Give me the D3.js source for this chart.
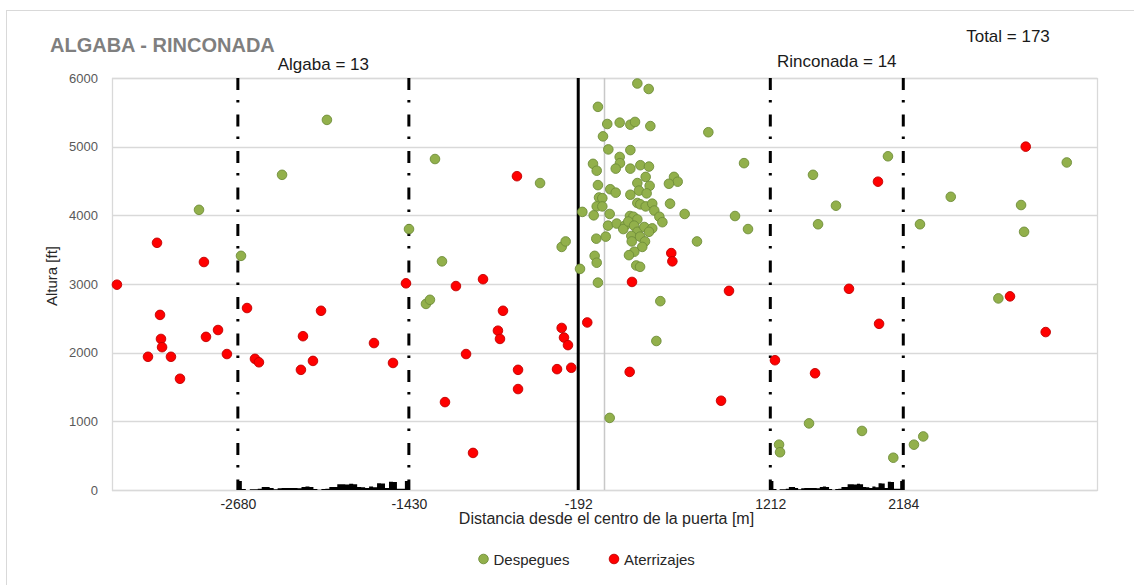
<!DOCTYPE html>
<html>
<head>
<meta charset="utf-8">
<script src="https://cdn.jsdelivr.net/npm/d3@7"></script>
<style>
  body { margin: 0; background: #fff; }
  svg { display: block; font-family: "Liberation Sans", Arial, sans-serif; }
</style>
</head>
<body>
<svg id="chart" width="1134" height="585"></svg>
<script>
// Take-offs: [distance from gate centre (m), altitude (ft)]
const despegues = [
  [-2964, 4080], [-2657, 3410], [-2357, 4590], [-2029, 5390], [-1429, 3800],
  [-1305, 2710], [-1276, 2770], [-1239, 4820], [-1188, 3330], [-471, 4470],
  [-313, 3540], [-284, 3620], [-179, 3220], [-162, 4050],
  [240, 5920], [323, 5840], [-48, 5580], [20, 5330], [111, 5350], [189, 5320],
  [223, 5360], [335, 5300], [759, 5210], [-11, 5150], [28, 4960], [189, 4950],
  [111, 4850], [113, 4760], [82, 4680], [-84, 4750], [-57, 4650], [189, 4680],
  [262, 4730], [325, 4710], [301, 4560], [508, 4560], [535, 4490], [471, 4460],
  [240, 4470], [330, 4430], [-48, 4440], [42, 4380], [82, 4330], [252, 4360],
  [308, 4320], [189, 4300], [-40, 4260], [-16, 4250], [-57, 4130], [-16, 4130],
  [240, 4180], [262, 4160], [301, 4130], [349, 4170], [479, 4170], [-79, 4000],
  [38, 4020], [364, 4070], [586, 4020], [186, 3990], [211, 3980], [240, 3940],
  [401, 3980], [423, 3900], [26, 3850], [89, 3880], [150, 3850], [137, 3800],
  [174, 3910], [216, 3850], [240, 3760], [291, 3830], [349, 3810], [325, 3760],
  [196, 3700], [260, 3690], [-60, 3660], [9, 3690], [199, 3620], [296, 3620],
  [276, 3540], [218, 3470], [179, 3420], [-72, 3410], [676, 3620], [-57, 3310],
  [232, 3270], [260, 3250], [-48, 3020], [408, 2750], [379, 2170], [38, 1050],
  [1020, 4760], [954, 3990], [1049, 3800], [1276, 660], [1283, 550], [1495, 970],
  [1524, 4590], [1561, 3870], [1692, 4140], [1882, 860], [2072, 4860], [2111, 470],
  [2262, 660], [2330, 780], [2306, 3870], [2531, 4270], [2879, 2790], [3045, 4150],
  [3067, 3760], [3379, 4770]
];

// Landings: [distance from gate centre (m), altitude (ft)]
const aterrizajes = [
  [-3564, 2990], [-3337, 1940], [-3271, 3600], [-3249, 2550], [-3242, 2200],
  [-3234, 2080], [-3169, 1940], [-3103, 1620], [-2928, 3320], [-2913, 2230],
  [-2825, 2330], [-2760, 1980], [-2613, 2650], [-2555, 1910], [-2526, 1860],
  [-2219, 1750], [-2204, 2240], [-2131, 1880], [-2072, 2610], [-1685, 2140],
  [-1546, 1850], [-1451, 3010], [-1166, 1280], [-1086, 2970], [-1012, 1980],
  [-961, 540], [-888, 3070], [-779, 2320], [-764, 2200], [-742, 2610],
  [-640, 4570], [-632, 1750], [-632, 1470], [-347, 1760], [-313, 2360],
  [-296, 2220], [-267, 2110], [-243, 1780], [-126, 2440], [184, 1720],
  [201, 3030], [488, 3450], [496, 3330], [852, 1300], [910, 2900],
  [1246, 1890], [1539, 1700], [1787, 2930], [1999, 4490], [2007, 2420],
  [2964, 2820], [3079, 5000], [3225, 2300]
];

// Urban zones under the flight paths
const zoneNames  = ["Algaba", "Rinconada"];
const zoneCounts = [13, 14];
const zoneStart  = [-2680, 1212];
const zoneEnd    = [-1430, 2184];

// Gate centre reference line and axis ticks
const gateLine = -192;
const xTickValues = [-2680, -1430, -192, 1212, 2184];
const yTickValues = [0, 1000, 2000, 3000, 4000, 5000, 6000];
const totalFlights = 173;

// Building skyline profile (ft) sampled evenly across each zone
const skylineHeights = [
  130, 15, 0, 10, 10, 20, 45, 45, 30, 10, 25, 30, 30, 30, 30, 25, 45, 50, 45, 15,
  5, 15, 20, 45, 45, 85, 85, 80, 90, 85, 45, 40, 30, 50, 40, 100, 95, 30, 120, 115,
  20, 20, 130
];

const svg = d3.select("#chart");
const W = 1134, H = 585;
const plot = { left: 112, right: 1097, top: 78, bottom: 490 };

const x = d3.scaleLinear().domain([-3600, 3600]).range([plot.left, plot.right]);
const y = d3.scaleLinear().domain([0, 6000]).range([plot.bottom, plot.top]);

// Chart area frame
svg.append("rect")
  .attr("x", 6.5).attr("y", 10.5).attr("width", W + 10).attr("height", H + 10)
  .attr("fill", "#fff").attr("stroke", "#d9d9d9").attr("stroke-width", 1);

// Horizontal gridlines
svg.append("g").selectAll("line").data(yTickValues).join("line")
  .attr("x1", plot.left).attr("x2", plot.right)
  .attr("y1", d => Math.round(y(d)) + 0.5).attr("y2", d => Math.round(y(d)) + 0.5)
  .attr("stroke", "#d9d9d9").attr("stroke-width", 1.3);

// Plot frame
svg.append("rect")
  .attr("x", plot.left + 0.5).attr("y", plot.top + 0.5)
  .attr("width", plot.right - plot.left).attr("height", plot.bottom - plot.top)
  .attr("fill", "none").attr("stroke", "#d9d9d9").attr("stroke-width", 1.3);

// Zero-distance line
svg.append("line")
  .attr("x1", x(0)).attr("x2", x(0)).attr("y1", plot.top).attr("y2", plot.bottom)
  .attr("stroke", "#c8c8c8").attr("stroke-width", 1.5);

// Skylines
const area = d3.area()
  .x(d => x(d[0]))
  .y0(y(0))
  .y1(d => y(d[1]))
  .curve(d3.curveStepAfter);

zoneNames.forEach((name, i) => {
  const a = zoneStart[i], b = zoneEnd[i];
  const n = skylineHeights.length;
  const pts = skylineHeights.map((h, k) => [a + (b - a) * k / n, h]);
  pts.push([b, skylineHeights[n - 1]]);
  svg.append("path").datum(pts).attr("d", area).attr("fill", "#000");
});

// Zone boundary lines (dash-dot)
const zoneEdges = zoneStart.concat(zoneEnd);
svg.append("g").selectAll("line").data(zoneEdges).join("line")
  .attr("x1", d => x(d)).attr("x2", d => x(d))
  .attr("y1", plot.top).attr("y2", plot.bottom)
  .attr("stroke", "#000").attr("stroke-width", 3)
  .attr("stroke-dasharray", "12,10,2.5,12");

// Gate centre line
svg.append("line")
  .attr("x1", x(gateLine)).attr("x2", x(gateLine))
  .attr("y1", plot.top).attr("y2", plot.bottom)
  .attr("stroke", "#000").attr("stroke-width", 3);

// Scatter points
const R = 4.8;
svg.append("g").selectAll("circle").data(despegues).join("circle")
  .attr("cx", d => x(d[0])).attr("cy", d => y(d[1])).attr("r", R)
  .attr("fill", "#92b04b").attr("stroke", "#6f8d3a").attr("stroke-width", 0.9);

svg.append("g").selectAll("circle").data(aterrizajes).join("circle")
  .attr("cx", d => x(d[0])).attr("cy", d => y(d[1])).attr("r", R)
  .attr("fill", "#ff0000").attr("stroke", "#c00000").attr("stroke-width", 0.9);

// Axes (plain hyphen-minus for negative labels)
const plain = d => String(d);
const xAxis = d3.axisBottom(x).tickValues(xTickValues).tickSize(0).tickPadding(9)
  .tickFormat(plain);
const gx = svg.append("g").attr("transform", `translate(0,${plot.bottom})`).call(xAxis);
gx.select(".domain").remove();
gx.selectAll("text").attr("font-size", 14).attr("fill", "#262626")
  .attr("font-family", "Liberation Sans, Arial, sans-serif");

const yAxis = d3.axisLeft(y).tickValues(yTickValues).tickSize(0).tickPadding(14)
  .tickFormat(plain);
const gy = svg.append("g").attr("transform", `translate(${plot.left},0)`).call(yAxis);
gy.select(".domain").remove();
gy.selectAll("text").attr("font-size", 13).attr("fill", "#595959")
  .attr("font-family", "Liberation Sans, Arial, sans-serif");

// Axis titles
svg.append("text")
  .attr("x", (plot.left + plot.right) / 2 + 2).attr("y", 524)
  .attr("text-anchor", "middle").attr("font-size", 16).attr("fill", "#262626")
  .text("Distancia desde el centro de la puerta [m]");

svg.append("text")
  .attr("transform", "translate(57,276) rotate(-90)")
  .attr("text-anchor", "middle").attr("font-size", 15).attr("fill", "#262626")
  .text("Altura [ft]");

// Chart title
svg.append("text")
  .attr("x", 50).attr("y", 52)
  .attr("font-size", 20).attr("font-weight", "bold").attr("fill", "#7f7f7f")
  .text("ALGABA - RINCONADA");

// Zone counts
zoneNames.forEach((name, i) => {
  svg.append("text")
    .attr("x", (x(zoneStart[i]) + x(zoneEnd[i])) / 2)
    .attr("y", i === 0 ? 70 : 67)
    .attr("text-anchor", "middle").attr("font-size", 17).attr("fill", "#1a1a1a")
    .text(`${name} = ${zoneCounts[i]}`);
});

svg.append("text")
  .attr("x", 1008).attr("y", 42)
  .attr("text-anchor", "middle").attr("font-size", 17).attr("fill", "#1a1a1a")
  .text(`Total = ${totalFlights}`);

// Legend
const legend = [
  { label: "Despegues", fill: "#92b04b", stroke: "#6f8d3a", cx: 483.5 },
  { label: "Aterrizajes", fill: "#ff0000", stroke: "#c00000", cx: 614 }
];
const lg = svg.append("g").selectAll("g").data(legend).join("g");
lg.append("circle")
  .attr("cx", d => d.cx).attr("cy", 559).attr("r", R)
  .attr("fill", d => d.fill).attr("stroke", d => d.stroke).attr("stroke-width", 0.9);
lg.append("text")
  .attr("x", d => d.cx + 10).attr("y", 564.5)
  .attr("font-size", 15).attr("fill", "#262626")
  .text(d => d.label);
</script>
</body>
</html>
